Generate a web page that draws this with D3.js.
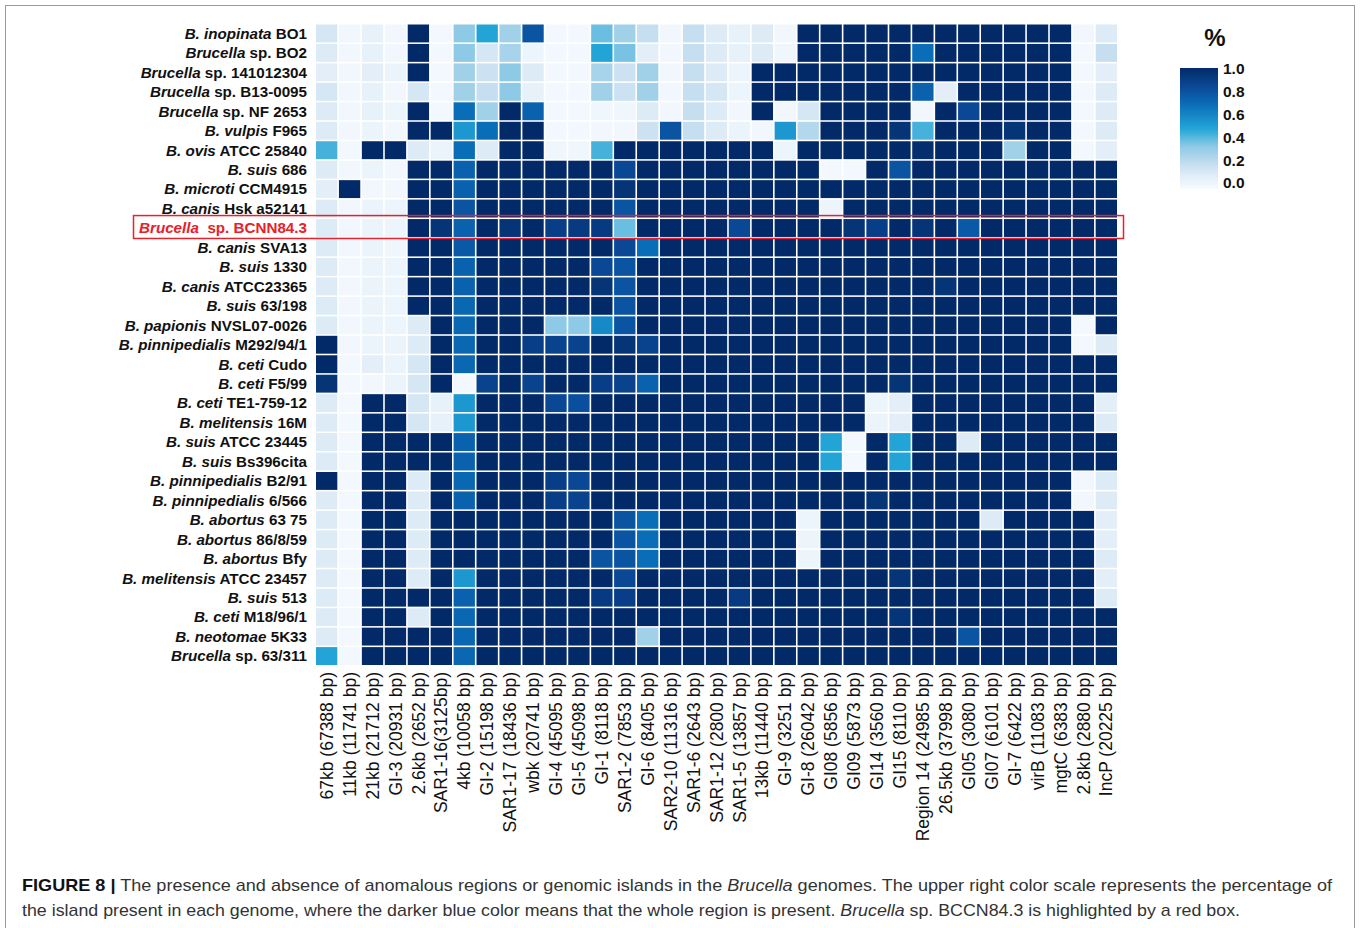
<!DOCTYPE html>
<html>
<head>
<meta charset="utf-8">
<script src="https://cdn.jsdelivr.net/npm/d3@7"></script>
<style>
  body { margin: 0; background: #fff; }
  svg { font-family: "Liberation Sans", Arial, sans-serif; }
</style>
</head>
<body>
<div id="chart-area"></div>
<script>
// genomes: [italic part, plain part]
var genomes = [
  ["B. inopinata", "BO1"], ["Brucella", "sp. BO2"], ["Brucella", "sp. 141012304"],
  ["Brucella", "sp. B13-0095"], ["Brucella", "sp. NF 2653"], ["B. vulpis", "F965"],
  ["B. ovis", "ATCC 25840"], ["B. suis", "686"], ["B. microti", "CCM4915"],
  ["B. canis", "Hsk a52141"], ["Brucella", " sp. BCNN84.3"], ["B. canis", "SVA13"],
  ["B. suis", "1330"], ["B. canis", "ATCC23365"], ["B. suis", "63/198"],
  ["B. papionis", "NVSL07-0026"], ["B. pinnipedialis", "M292/94/1"], ["B. ceti", "Cudo"],
  ["B. ceti", "F5/99"], ["B. ceti", "TE1-759-12"], ["B. melitensis", "16M"],
  ["B. suis", "ATCC 23445"], ["B. suis", "Bs396cita"], ["B. pinnipedialis", "B2/91"],
  ["B. pinnipedialis", "6/566"], ["B. abortus", "63 75"], ["B. abortus", "86/8/59"],
  ["B. abortus", "Bfy"], ["B. melitensis", "ATCC 23457"], ["B. suis", "513"],
  ["B. ceti", "M18/96/1"], ["B. neotomae", "5K33"], ["Brucella", "sp. 63/311"]
];
var highlighted = 10;

var regions = [
  "67kb (67388 bp)", "11kb (11741 bp)", "21kb (21712 bp)", "GI-3 (20931 bp)",
  "2.6kb (2652 bp)", "SAR1-16(3125bp)", "4kb (10058 bp)", "GI-2 (15198 bp)",
  "SAR1-17 (18436 bp)", "wbk (20741 bp)", "GI-4 (45095 bp)", "GI-5 (45098 bp)",
  "GI-1 (8118 bp)", "SAR1-2 (7853 bp)", "GI-6 (8405 bp)", "SAR2-10 (11316 bp)",
  "SAR1-6 (2643 bp)", "SAR1-12 (2800 bp)", "SAR1-5 (13857 bp)", "13kb (11440 bp)",
  "GI-9 (3251 bp)", "GI-8 (26042 bp)", "GI08 (5856 bp)", "GI09 (5873 bp)",
  "GI14 (3560 bp)", "GI15 (8110 bp)", "Region 14 (24985 bp)", "26.5kb (37998 bp)",
  "GI05 (3080 bp)", "GI07 (6101 bp)", "GI-7 (6422 bp)", "virB (11083 bp)",
  "mgtC (6383 bp)", "2.8kb (2880 bp)", "IncP (20225 bp)"
];

// fraction of each region present, one row per genome
var presence = [
  [0.15,0.03,0.08,0.03,1,0.02,0.35,0.5,0.3,0.8,0.02,0.02,0.4,0.3,0.2,0.03,0.2,0.12,0.08,0.12,0.03,1,1,1,1,1,1,1,1,1,1,1,1,0.03,0.12],
  [0.12,0.03,0.08,0.03,1,0.02,0.35,0.15,0.28,0.05,0.02,0.02,0.5,0.38,0.1,0.03,0.2,0.12,0.08,0.12,0.04,1,1,1,1,1,0.7,1,1,1,1,1,1,0.02,0.2],
  [0.1,0.03,0.1,0.06,1,0.02,0.3,0.18,0.35,0.12,0.02,0.02,0.28,0.18,0.3,0.03,0.2,0.12,0.05,1,1,1,1,1,1,1,1,1,1,1,1,1,1,0.02,0.1],
  [0.15,0.03,0.08,0.03,0.15,0.02,0.3,0.2,0.35,0.08,0.02,0.02,0.3,0.18,0.3,0.03,0.2,0.15,0.05,1,1,1,1,1,1,1,0.75,0.1,1,1,1,1,1,0.02,0.12],
  [0.12,0.03,0.08,0.05,1,0.02,0.7,0.3,1,0.75,0.02,0.02,0.04,0.04,0.12,0.03,0.2,0.12,0.03,1,0.03,0.15,1,1,1,1,0.03,1,0.85,1,1,1,1,0.02,0.12],
  [0.12,0.03,0.06,0.03,1,1,0.55,0.7,1,1,0.02,0.02,0.03,0.03,0.18,0.8,0.2,0.12,0.06,0.03,0.55,0.25,1,1,1,0.95,0.45,1,1,1,0.95,1,1,0.02,0.12],
  [0.45,0.02,1,1,0.12,0.06,0.7,0.12,1,1,0.04,0.04,0.45,1,1,1,1,1,1,1,0.05,1,1,1,1,1,0.98,1,1,1,0.3,1,1,0.02,0.1],
  [0.12,0.03,0.06,0.03,1,1,0.75,1,1,1,1,1,1,0.85,1,1,1,1,1,1,1,1,0.02,0.02,1,0.8,1,1,1,1,1,1,1,1,1],
  [0.1,1,0.03,0.03,1,1,0.75,1,1,1,1,1,1,0.95,1,1,1,1,1,1,1,1,1,1,1,1,1,1,1,1,1,1,1,1,1],
  [0.12,0.03,0.06,0.05,1,1,0.8,1,1,1,1,1,1,0.8,1,1,1,1,1,1,1,1,0.05,1,1,1,1,1,1,1,1,1,1,1,1],
  [0.12,0.03,0.06,0.05,1,0.95,0.75,1,0.95,1,0.9,0.92,0.92,0.4,1,1,1,1,0.85,1,1,1,1,0.95,0.9,1,0.95,1,0.78,1,1,1,1,1,1],
  [0.12,0.03,0.06,0.04,1,1,0.78,1,1,1,1,1,1,0.85,0.7,1,1,1,1,1,1,1,1,1,1,1,1,1,1,1,1,1,1,1,1],
  [0.12,0.03,0.06,0.05,1,1,0.75,1,1,1,1,1,0.85,0.8,1,1,1,1,1,1,1,1,1,1,1,1,1,1,1,1,1,1,1,1,1],
  [0.12,0.03,0.06,0.05,1,1,0.75,1,1,1,1,1,0.95,0.8,1,1,1,1,1,1,1,1,1,1,1,1,1,0.95,1,1,1,1,1,1,1],
  [0.12,0.03,0.06,0.05,1,1,0.72,1,1,1,1,1,1,0.8,1,1,1,1,1,1,1,1,1,1,1,1,1,1,1,1,1,1,1,1,1],
  [0.12,0.03,0.06,0.05,0.12,1,0.72,1,1,1,0.35,0.35,0.6,0.8,1,1,1,1,1,1,1,1,1,1,1,1,1,1,1,1,1,1,1,0.02,1],
  [1,0.03,0.06,0.06,0.12,1,0.72,1,1,0.9,0.88,0.88,1,0.95,0.88,1,1,1,1,1,1,1,1,1,1,1,1,1,1,1,1,1,1,0.02,0.12],
  [1,0.02,0.1,0.06,0.15,1,0.72,1,1,1,1,1,1,1,1,1,1,1,1,1,1,1,1,1,1,1,1,1,1,1,1,1,1,1,1],
  [0.95,0.02,0.03,0.06,0.15,1,0.02,0.88,1,0.88,1,1,0.9,0.88,0.75,1,1,1,1,1,1,1,1,1,1,0.95,1,1,1,1,1,1,1,1,1],
  [0.12,0.02,1,1,0.15,0.08,0.55,1,1,1,0.85,0.82,1,1,1,1,1,1,1,1,1,1,1,1,0.05,0.1,1,1,1,1,1,1,1,1,0.1],
  [0.12,0.02,1,1,0.15,0.08,0.55,1,1,1,1,1,1,1,1,1,1,1,1,1,1,1,1,1,0.06,0.1,1,1,1,1,1,1,1,1,0.12],
  [0.12,0.02,1,1,1,1,0.75,1,1,1,1,1,1,1,1,1,1,1,1,1,1,1,0.5,0.02,1,0.5,1,1,0.12,1,1,1,1,1,1],
  [0.12,0.02,1,1,1,1,0.75,1,1,1,1,1,1,1,1,1,1,1,1,1,1,1,0.5,0.02,1,0.5,1,1,1,1,1,1,1,1,1],
  [1,0.02,1,1,0.12,1,0.72,1,1,1,0.9,0.85,1,1,1,1,1,1,1,1,1,1,1,1,1,1,1,1,1,1,1,1,1,0.03,0.12],
  [0.12,0.02,1,1,0.12,1,0.75,1,1,1,0.9,0.88,1,1,1,1,1,1,1,1,1,1,1,1,0.95,1,1,1,1,1,1,1,1,0.03,0.12],
  [0.12,0.02,1,1,0.12,1,1,1,1,1,1,1,1,0.8,0.7,1,1,1,1,1,1,0.05,1,1,1,1,1,1,1,0.12,1,1,1,1,0.1],
  [0.12,0.02,1,1,0.12,1,1,1,1,1,1,1,1,0.8,0.7,1,1,1,1,1,1,0.05,1,1,1,1,1,1,1,1,1,1,1,1,0.1],
  [0.12,0.02,1,1,0.12,1,1,1,1,1,1,1,0.8,0.8,0.7,1,1,1,1,1,1,0.05,1,1,1,1,1,1,1,1,1,1,1,1,0.12],
  [0.12,0.02,1,1,0.12,1,0.55,1,1,1,1,1,1,0.85,1,1,1,1,1,1,1,1,1,1,1,0.95,1,1,1,1,1,1,1,1,0.1],
  [0.12,0.02,1,1,1,1,0.75,1,1,1,1,1,0.92,0.9,1,1,1,1,0.92,1,1,1,1,1,1,1,1,1,1,1,1,1,1,1,0.12],
  [0.12,0.02,1,1,0.12,1,0.72,1,1,1,1,1,1,1,1,1,1,1,1,1,1,1,1,1,1,0.95,1,1,1,1,1,1,1,1,1],
  [0.12,0.02,1,1,1,1,0.72,1,1,1,1,1,1,1,0.3,1,1,1,1,1,1,1,1,1,1,1,1,1,0.8,1,1,1,1,1,1],
  [0.5,0.02,1,1,1,1,0.72,1,1,1,1,1,1,1,1,1,1,1,1,1,1,1,1,1,1,1,1,1,1,1,1,1,1,1,1]
];

var legendTicks = [0, 0.2, 0.4, 0.6, 0.8, 1.0];

var W = 1360, H = 928;

var svg = d3.select("#chart-area")
  .append("svg")
  .attr("width", W)
  .attr("height", H);

// figure frame
svg.append("rect")
  .attr("x", 5.5).attr("y", 5.5)
  .attr("width", 1349).attr("height", 940)
  .attr("fill", "none")
  .attr("stroke", "#9a9a9a")
  .attr("stroke-width", 1);

// Scales
var x = d3.scaleBand()
  .domain(d3.range(regions.length))
  .range([316, 1117])
  .paddingInner(0.07);

var y = d3.scaleBand()
  .domain(d3.range(genomes.length))
  .range([24.5, 665])
  .paddingInner(0.08);

var color = d3.scaleLinear()
  .domain([0, 0.1, 0.2, 0.35, 0.5, 0.7, 0.85, 1])
  .range(["#f7fbff", "#e3eef8", "#c6dff0", "#8ecae6", "#22a5d6", "#0a6db8", "#0a4896", "#032a68"])
  .clamp(true);

// cells
var cells = [];
presence.forEach(function(row, i) {
  row.forEach(function(v, j) {
    cells.push({ r: i, c: j, v: v });
  });
});

svg.append("g")
  .selectAll("rect")
  .data(cells)
  .enter()
  .append("rect")
  .attr("x", function(d) { return x(d.c); })
  .attr("y", function(d) { return y(d.r); })
  .attr("width", x.bandwidth())
  .attr("height", y.bandwidth())
  .attr("fill", function(d) { return color(d.v); });

// row labels
var rowLabels = svg.append("g")
  .selectAll("text")
  .data(genomes)
  .enter()
  .append("text")
  .attr("x", 307)
  .attr("y", function(d, i) { return y(i) + y.bandwidth() / 2; })
  .attr("dy", "0.35em")
  .attr("text-anchor", "end")
  .attr("font-size", "15.2px")
  .attr("font-weight", "bold")
  .style("white-space", "pre")
  .attr("fill", function(d, i) { return i === highlighted ? "#e8202a" : "#111"; });

rowLabels.append("tspan")
  .attr("font-style", "italic")
  .text(function(d) { return d[0]; });
rowLabels.append("tspan")
  .text(function(d) { return " " + d[1]; });

// highlight box
svg.append("rect")
  .attr("x", 133.5)
  .attr("y", y(highlighted) - 3.5)
  .attr("width", 990)
  .attr("height", y.bandwidth() + 5)
  .attr("fill", "none")
  .attr("stroke", "#e8202a")
  .attr("stroke-width", 1.5);

// column labels
svg.append("g")
  .selectAll("text")
  .data(regions)
  .enter()
  .append("text")
  .attr("transform", function(d, i) {
    return "translate(" + (x(i) + x.bandwidth() / 2) + ",672) rotate(-90)";
  })
  .attr("dy", "0.35em")
  .attr("text-anchor", "end")
  .attr("font-size", "17.5px")
  .attr("fill", "#111")
  .text(function(d) { return d; });

// colour legend
var defs = svg.append("defs");
var grad = defs.append("linearGradient")
  .attr("id", "legend-grad")
  .attr("x1", 0).attr("y1", 1).attr("x2", 0).attr("y2", 0);
d3.range(0, 1.001, 0.05).forEach(function(t) {
  grad.append("stop")
    .attr("offset", t)
    .attr("stop-color", color(t));
});

var ly = d3.scaleLinear().domain([0, 1]).range([183, 69]);

svg.append("rect")
  .attr("x", 1180)
  .attr("y", 68)
  .attr("width", 38)
  .attr("height", 121)
  .attr("fill", "url(#legend-grad)");

svg.append("g")
  .selectAll("text")
  .data(legendTicks)
  .enter()
  .append("text")
  .attr("x", 1223)
  .attr("y", function(d) { return ly(d); })
  .attr("dy", "0.35em")
  .attr("font-size", "15.5px")
  .attr("font-weight", "bold")
  .attr("fill", "#111")
  .text(function(d) { return d.toFixed(1); });

svg.append("text")
  .attr("x", 1215)
  .attr("y", 46)
  .attr("text-anchor", "middle")
  .attr("font-size", "24px")
  .attr("font-weight", "bold")
  .attr("fill", "#111")
  .text("%");

// caption
var cap1 = svg.append("text")
  .attr("x", 22).attr("y", 891)
  .attr("font-size", "17px")
  .attr("fill", "#333")
  .attr("textLength", 1310)
  .attr("lengthAdjust", "spacingAndGlyphs");
cap1.append("tspan").attr("font-weight", "bold").attr("fill", "#111").text("FIGURE 8 |");
cap1.append("tspan").text(" The presence and absence of anomalous regions or genomic islands in the ");
cap1.append("tspan").attr("font-style", "italic").text("Brucella");
cap1.append("tspan").text(" genomes. The upper right color scale represents the percentage of");

var cap2 = svg.append("text")
  .attr("x", 22).attr("y", 916)
  .attr("font-size", "17px")
  .attr("fill", "#333")
  .attr("textLength", 1218)
  .attr("lengthAdjust", "spacingAndGlyphs");
cap2.append("tspan").text("the island present in each genome, where the darker blue color means that the whole region is present. ");
cap2.append("tspan").attr("font-style", "italic").text("Brucella");
cap2.append("tspan").text(" sp. BCCN84.3 is highlighted by a red box.");
</script>
</body>
</html>
